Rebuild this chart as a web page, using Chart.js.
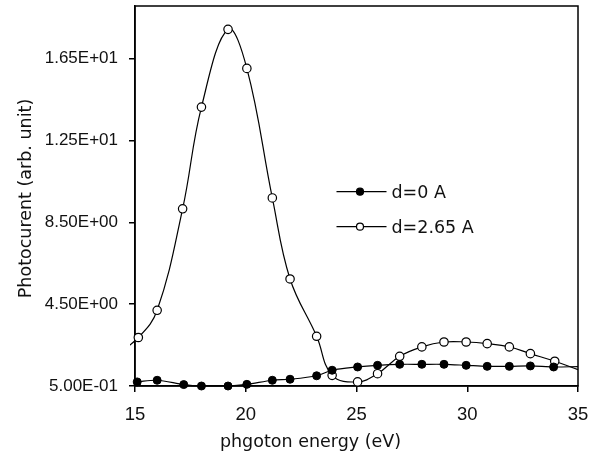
<!DOCTYPE html>
<html>
<head>
<meta charset="utf-8">
<script src="https://cdn.jsdelivr.net/npm/chart.js@4/dist/chart.umd.min.js"></script>
<style>
  html, body { margin: 0; padding: 0; background: #fff; }
  canvas { display: block; }
</style>
</head>
<body>
<canvas id="chart" width="592" height="454"></canvas>
<script>
// values
const seriesLabels = ["d=0 A", "d=2.65 A"];

const energyBare = [15.1, 16, 17.2, 18, 19.2, 20.05, 21.2, 22, 23.2, 23.9, 25.05, 25.95, 26.95, 27.95, 28.95, 29.95, 30.9, 31.9, 32.85, 33.9, 35];
const currentBare = [0.7, 0.78, 0.57, 0.5, 0.5, 0.58, 0.78, 0.83, 1.0, 1.27, 1.43, 1.51, 1.56, 1.56, 1.56, 1.51, 1.46, 1.46, 1.48, 1.43, 1.45];

const energyShifted = [14, 15.15, 16, 17.15, 18, 19.2, 20.05, 21.2, 22, 23.2, 23.9, 25.05, 25.95, 26.95, 27.95, 28.95, 29.95, 30.9, 31.9, 32.85, 33.95, 35];
const currentShifted = [1.9, 2.87, 4.2, 9.16, 14.13, 17.93, 16.02, 9.69, 5.73, 2.93, 1.02, 0.7, 1.1, 1.95, 2.41, 2.65, 2.65, 2.57, 2.41, 2.08, 1.71, 1.3];

const yTickValues = [0.5, 4.5, 8.5, 12.5, 16.5];
const yTickLabels = ["5.00E-01", "4.50E+00", "8.50E+00", "1.25E+01", "1.65E+01"];
const xTitle = "phgoton energy (eV)";
const yTitle = "Photocurent (arb. unit)";

const toPoints = (xs, ys) => xs.map((x, i) => ({ x, y: ys[i] }));
// no marker on the points that sit on / past the plot edge
const edgeRadius = (xs, r) => xs.map((x) => (x < 15 || x >= 35 ? 0 : r));

const textFont = "'DejaVu Sans', sans-serif";

const framePlugin = {
  id: "frame",
  beforeDatasetsDraw(chart) {
    const { ctx, chartArea: a } = chart;
    ctx.save();
    ctx.strokeStyle = "#000";
    ctx.lineWidth = 1.5;
    ctx.strokeRect(a.left, a.top, a.right - a.left, a.bottom - a.top);
    ctx.restore();
  },
};

const textPlugin = {
  id: "texts",
  afterDraw(chart) {
    const { ctx } = chart;
    ctx.save();
    ctx.fillStyle = "#111";

    // axis titles
    ctx.font = "17.5px " + textFont;
    ctx.textAlign = "center";
    ctx.textBaseline = "alphabetic";
    ctx.fillText(xTitle, 310.5, 446.5);

    ctx.translate(30.5, 198.5);
    ctx.rotate(-Math.PI / 2);
    ctx.fillText(yTitle, 0, 0);
    ctx.setTransform(1, 0, 0, 1, 0, 0);

    // legend inside the plot
    const rows = [191.7, 226.7];
    chart.data.datasets.forEach((ds, i) => {
      const y = rows[i];
      ctx.strokeStyle = "#000";
      ctx.lineWidth = 1.2;
      ctx.beginPath();
      ctx.moveTo(336.5, y);
      ctx.lineTo(386.5, y);
      ctx.stroke();
      ctx.beginPath();
      ctx.arc(360, y, 3.5, 0, Math.PI * 2);
      ctx.fillStyle = ds.pointBackgroundColor;
      ctx.fill();
      ctx.stroke();
      ctx.fillStyle = "#111";
      ctx.textAlign = "left";
      ctx.fillText(ds.label, 391.5, y + 6.6);
    });
    ctx.restore();
  },
};

new Chart(document.getElementById("chart"), {
  type: "line",
  data: {
    datasets: [
      {
        label: seriesLabels[0],
        data: toPoints(energyBare, currentBare),
        borderColor: "#000",
        borderWidth: 1.2,
        pointBackgroundColor: "#000",
        pointBorderColor: "#000",
        pointBorderWidth: 1,
        pointRadius: edgeRadius(energyBare, 4),
        tension: 0.3,
        clip: { left: 5, right: 3, top: 10, bottom: 8 },
      },
      {
        label: seriesLabels[1],
        data: toPoints(energyShifted, currentShifted),
        borderColor: "#000",
        borderWidth: 1.2,
        pointBackgroundColor: "#fff",
        pointBorderColor: "#000",
        pointBorderWidth: 1.2,
        pointRadius: edgeRadius(energyShifted, 4.2),
        tension: 0.4,
        clip: { left: 5, right: 3, top: 10, bottom: 8 },
      },
    ],
  },
  options: {
    responsive: false,
    animation: false,
    devicePixelRatio: 1,
    layout: { padding: { top: 6, right: 14, left: 0, bottom: 0 } },
    plugins: {
      legend: { display: false },
      tooltip: { enabled: false },
    },
    scales: {
      x: {
        type: "linear",
        min: 15,
        max: 35,
        afterFit: (scale) => {
          scale.height = 68;
          scale.paddingLeft = 0;
          scale.paddingRight = 0;
        },
        ticks: {
          stepSize: 5,
          color: "#111",
          padding: 12,
          font: { family: "'Liberation Sans', Arial, sans-serif", size: 18.5 },
        },
        grid: {
          drawOnChartArea: false,
          tickLength: 6,
          color: "#000",
          lineWidth: 1.5,
        },
        border: { color: "#000", width: 1.5 },
      },
      y: {
        type: "linear",
        min: 0.5,
        max: 19.07,
        afterBuildTicks: (axis) => {
          axis.ticks = yTickValues.map((value) => ({ value }));
        },
        afterFit: (scale) => {
          scale.width = 135;
          scale.paddingTop = 0;
          scale.paddingBottom = 0;
        },
        ticks: {
          color: "#111",
          padding: 11,
          font: { family: "'Liberation Sans', Arial, sans-serif", size: 17 },
          callback: (value, index) => yTickLabels[index],
        },
        grid: {
          drawOnChartArea: false,
          tickLength: 6,
          color: "#000",
          lineWidth: 1.5,
        },
        border: { color: "#000", width: 1.5 },
      },
    },
  },
  plugins: [framePlugin, textPlugin],
});
</script>
</body>
</html>
